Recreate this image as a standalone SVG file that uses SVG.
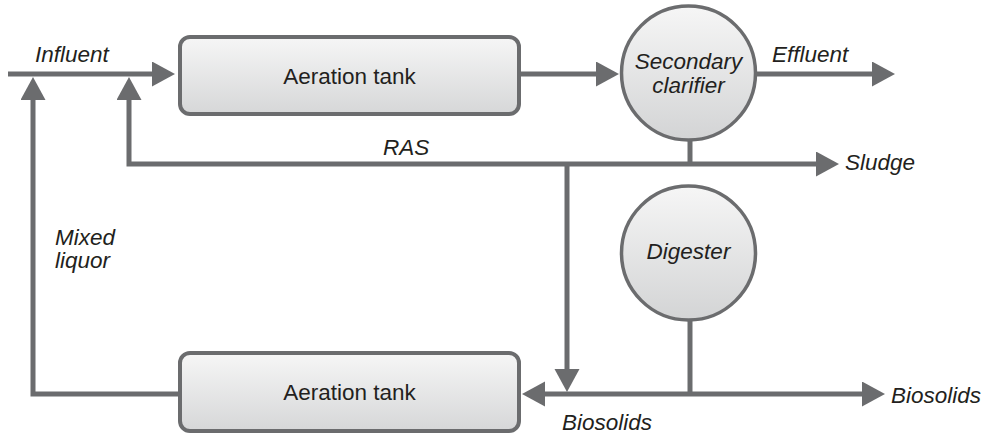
<svg xmlns="http://www.w3.org/2000/svg" width="986" height="437" viewBox="0 0 986 437">
  <defs>
    <linearGradient id="tankFill" x1="0" y1="0" x2="0" y2="1">
      <stop offset="0" stop-color="#f6f6f6"/>
      <stop offset="1" stop-color="#d6d7d8"/>
    </linearGradient>
    <linearGradient id="vesselFill" x1="0" y1="0" x2="0" y2="1">
      <stop offset="0" stop-color="#f6f6f6"/>
      <stop offset="1" stop-color="#d3d4d5"/>
    </linearGradient>
    <marker id="head" markerUnits="userSpaceOnUse" markerWidth="24" markerHeight="26" refX="8" refY="12.5" orient="auto">
      <path d="M0,0 L23,12.5 L0,25 Z" fill="#6b6c6e"/>
    </marker>
  </defs>
  <style>
    .pipe { fill: none; stroke: #6b6c6e; stroke-width: 5; }
    .tank { fill: url(#tankFill); stroke: #6b6c6e; stroke-width: 4; }
    .vessel { fill: url(#vesselFill); stroke: #6b6c6e; stroke-width: 3.5; }
    .name { font-family: "Liberation Sans", Arial, sans-serif; font-size: 22.5px; fill: #231f20; text-anchor: middle; }
    .flow { font-family: "Liberation Sans", Arial, sans-serif; font-size: 22.5px; font-style: italic; fill: #231f20; }
  </style>

  <!-- process lines -->
  <g id="connectors">
    <path class="pipe" d="M8,74 H160" marker-end="url(#head)"/>
    <path class="pipe" d="M519,74 H604" marker-end="url(#head)"/>
    <path class="pipe" d="M756,74 H880" marker-end="url(#head)"/>
    <path class="pipe" d="M690,140 V164"/>
    <path class="pipe" d="M690,164 H129 V92" marker-end="url(#head)"/>
    <path class="pipe" d="M690,164 H824" marker-end="url(#head)"/>
    <path class="pipe" d="M567,164 V377" marker-end="url(#head)"/>
    <path class="pipe" d="M690,320 V394"/>
    <path class="pipe" d="M690,394 H537" marker-end="url(#head)"/>
    <path class="pipe" d="M690,394 H870" marker-end="url(#head)"/>
    <path class="pipe" d="M180,394 H33 V92" marker-end="url(#head)"/>
  </g>

  <!-- units -->
  <g id="aeration-tank-1">
    <rect class="tank" x="180" y="37" width="339" height="77" rx="10"/>
    <text class="name" x="349.5" y="84">Aeration tank</text>
  </g>
  <g id="aeration-tank-2">
    <rect class="tank" x="180" y="353" width="339" height="78" rx="10"/>
    <text class="name" x="349.5" y="400">Aeration tank</text>
  </g>
  <g id="secondary-clarifier">
    <circle class="vessel" cx="688.5" cy="73" r="67"/>
    <text class="flow" x="688.5" y="69" text-anchor="middle">Secondary</text>
    <text class="flow" x="688.5" y="93" text-anchor="middle">clarifier</text>
  </g>
  <g id="digester">
    <circle class="vessel" cx="688.5" cy="253" r="67"/>
    <text class="flow" x="688.5" y="259" text-anchor="middle">Digester</text>
  </g>

  <!-- stream labels -->
  <g id="labels">
    <text class="flow" x="35" y="62">Influent</text>
    <text class="flow" x="772" y="62">Effluent</text>
    <text class="flow" x="383" y="155">RAS</text>
    <text class="flow" x="845" y="170">Sludge</text>
    <text class="flow" x="55" y="245">Mixed</text>
    <text class="flow" x="55" y="268">liquor</text>
    <text class="flow" x="891" y="403">Biosolids</text>
    <text class="flow" x="562" y="430">Biosolids</text>
  </g>
</svg>
